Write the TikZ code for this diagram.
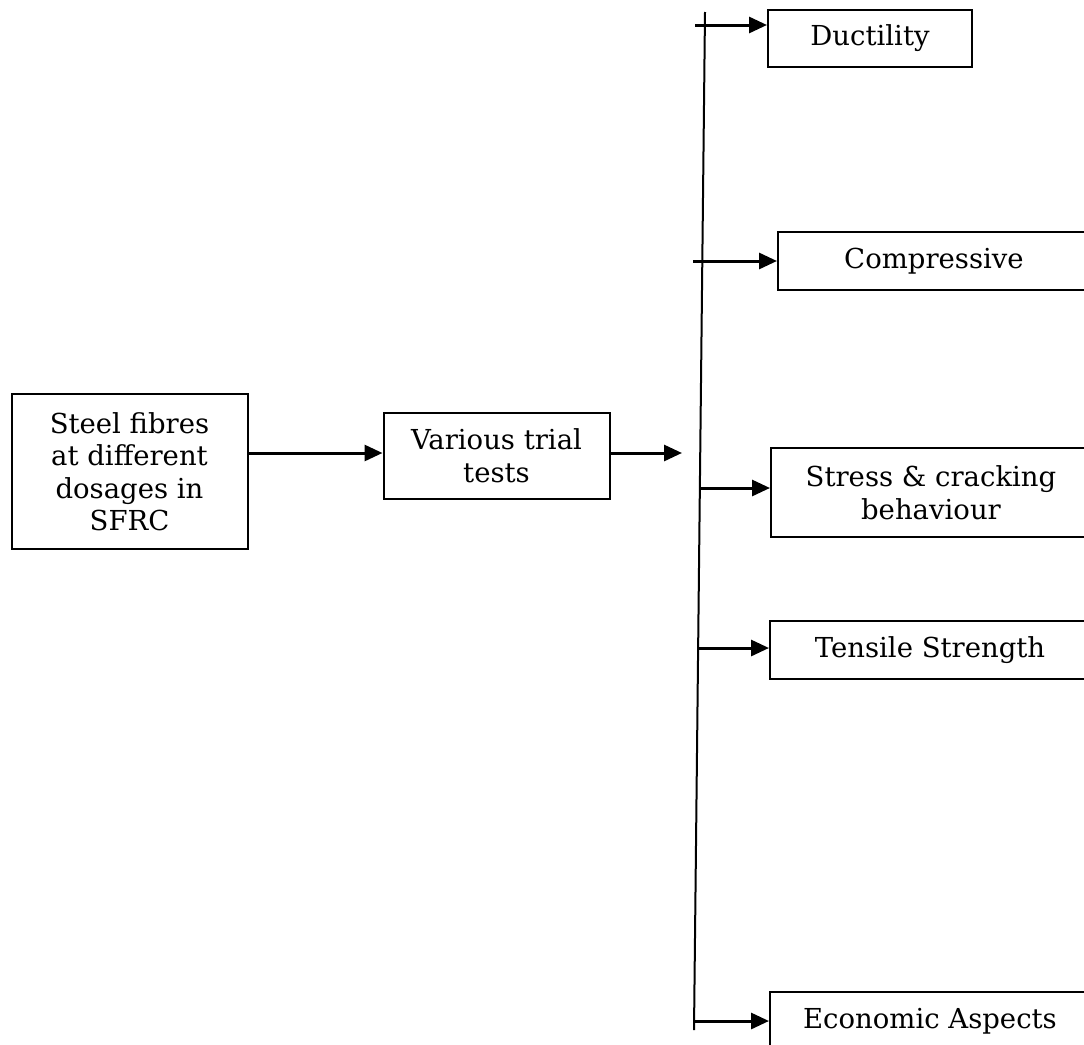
\documentclass[tikz,border=0pt]{standalone}
\usepackage{fontspec}
\setmainfont{DejaVu Serif}
\usetikzlibrary{arrows.meta}

\tikzset{
    box/.style={draw, line width=2pt, align=center, inner sep=0pt,
        font=\fontsize{27.5}{32.5}\selectfont},
    feed/.style={line width=3pt, -{Triangle[length=18pt,width=16pt]}},
}

\begin{document}
\begin{tikzpicture}[x=1pt,y=-1pt]
        \useasboundingbox (0,0) rectangle (1084,1044);
        \clip (0,0) rectangle (1084,1044);

        \node[box, minimum width=236pt, minimum height=155pt] (fibres) at (129.5,471.5) {Steel fibres\\at different\\dosages in\\SFRC};
        \node[box, minimum width=226pt, minimum height=86pt] (trials) at (496.5,455.5) {Various trial\\tests};

        \node[box, minimum width=204pt, minimum height=57pt] (ductility) at (870,38.5) {Ductility};
        \node[box, minimum width=312pt, minimum height=58pt] (compressive) at (934,261) {Compressive};
        \node[box, minimum width=320pt, minimum height=89pt] (stress) at (931,492.5) {Stress \& cracking\\behaviour};
        \node[box, minimum width=320pt, minimum height=58pt] (tensile) at (930,650) {Tensile Strength};
        \node[box, minimum width=320pt, minimum height=58pt] (economic) at (930,1021) {Economic Aspects};

        \coordinate (top) at (705,12);% top of the spine
        \coordinate (bottom) at (694,1030);% bottom of the spine
        \coordinate (out) at (682,453);% free end after the trials
        \coordinate (d0) at (695,25);
        \coordinate (c0) at (693,261);
        \coordinate (s0) at (701,488);
        \coordinate (t0) at (697,648);
        \coordinate (e0) at (695,1021);

        \draw[line width=2pt] (top) -- (bottom);% spine

        \draw[feed] (fibres.east |- 0,453) -- (trials.west |- 0,453);
        \draw[feed] (trials.east |- out) -- (out);

        \draw[feed] (d0) -- (d0 -| ductility.west);
        \draw[feed] (c0) -- (c0 -| compressive.west);
        \draw[feed] (s0) -- (s0 -| stress.west);
        \draw[feed] (t0) -- (t0 -| tensile.west);
        \draw[feed] (e0) -- (e0 -| economic.west);

\end{tikzpicture}
\end{document}
